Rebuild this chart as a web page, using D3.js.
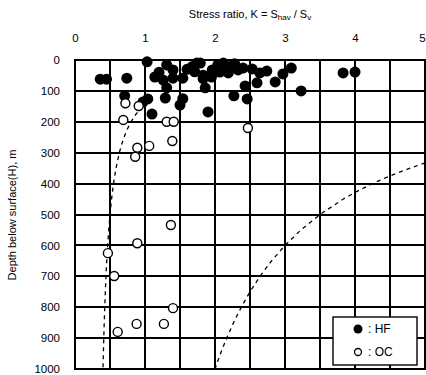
<!DOCTYPE html>
<html><head><meta charset="utf-8">
<script src="https://cdn.jsdelivr.net/npm/d3@7"></script>
<style>body{margin:0;background:#fff}svg{display:block}text{font-family:"Liberation Sans",Arial,sans-serif;fill:#000}</style>
</head><body><svg id="c" width="426" height="375"></svg>
<script>
const xTicks = [0,1,2,3,4,5];
const xGrid = [0.5,1,1.5,2,2.5,3,3.5,4,4.5];
const yTicks = [0,100,200,300,400,500,600,700,800,900,1000];
const hfK = [0.36,0.45,0.74,0.71,1.03,1.31,1.40,1.14,1.26,1.40,1.31,1.54,1.67,1.74,1.71,1.83,1.86,1.96,1.29,1.04,0.97,1.54,1.50,1.10,1.90,1.79,1.83,2.04,2.07,2.21,2.33,2.19,2.12,2.28,2.40,2.53,2.64,2.74,2.43,2.60,2.86,2.97,3.09,2.27,2.46,3.23,3.83,4.00,1.60,1.20,1.95,2.12];
const hfH = [62,62,59,116,6,16,32,55,65,59,90,59,22,10,38,60,90,32,123,126,136,125,146,175,168,10,49,16,39,22,32,42,10,12,26,29,42,36,84,74,71,45,26,116,126,100,42,39,30,40,55,28];
const ocK = [0.72,0.91,0.69,1.31,1.41,2.47,1.39,0.89,1.06,0.86,1.37,0.89,0.47,0.56,1.40,0.61,0.88,1.27];
const ocH = [140,149,194,200,200,220,262,284,278,313,534,593,625,699,803,880,854,854];
const lowerA = 100, lowerB = 0.3;   // K = 100/H + 0.3
const upperA = 1500, upperB = 0.5;  // K = 1500/H + 0.5
const lowerDepths = [150,175,200,225,250,275,300,350,400,450,500,550,600,650,700,750,800,850,900,950,1000];
const upperDepths = [333,350,375,400,425,450,500,550,600,650,700,750,800,850,900,950,1000];

const svg = d3.select("#c");
const x = d3.scaleLinear().domain([0,5]).range([75,425]);
const y = d3.scaleLinear().domain([0,1000]).range([60,369]);

// grid lines
const grid = svg.append("g").attr("shape-rendering","crispEdges");
grid.selectAll("rect.gv").data(xGrid).enter().append("rect")
  .attr("x",d=>Math.round(x(d))-1).attr("y",y(0)).attr("width",2).attr("height",y(1000)-y(0)).attr("fill","#000");
grid.selectAll("rect.gh").data(yTicks.slice(1,-1)).enter().append("rect")
  .attr("x",x(0)).attr("y",d=>Math.round(y(d))-1).attr("width",x(5)-x(0)).attr("height",2).attr("fill","#000");
svg.append("rect").attr("x",x(0)).attr("y",y(0)).attr("width",x(5)-x(0)).attr("height",y(1000)-y(0))
  .attr("fill","none").attr("stroke","#000").attr("stroke-width",2);

// axes labels
const xa = svg.append("g").attr("transform",`translate(0,${y(0)-15})`)
  .call(d3.axisTop(x).tickValues(xTicks).tickSize(0).tickFormat(d3.format("d")));
xa.select(".domain").remove();
xa.selectAll("text").attr("font-size",11.5).attr("font-family","Liberation Sans, Arial, sans-serif")
  .attr("dx",d=>d===5?-3:0);
const ya = svg.append("g").attr("transform",`translate(${x(0)-12},0)`)
  .call(d3.axisLeft(y).tickValues(yTicks).tickSize(0).tickFormat(d3.format("d")));
ya.select(".domain").remove();
ya.selectAll("text").attr("font-size",11.5).attr("font-family","Liberation Sans, Arial, sans-serif");

// titles
const t = svg.append("text").attr("x",250).attr("y",18).attr("text-anchor","middle").attr("font-size",11);
t.append("tspan").text("Stress ratio, K = S");
t.append("tspan").attr("font-size",8).attr("dy",2).text("hav");
t.append("tspan").attr("dy",-2).text(" / S");
t.append("tspan").attr("font-size",8).attr("dy",2).text("v");
svg.append("text").attr("transform","translate(16,215) rotate(-90)").attr("text-anchor","middle")
  .attr("font-size",11).text("Depth below surface(H), m");

// curves
const line = d3.line().x(d=>x(d[0])).y(d=>y(d[1]));
svg.append("path").datum(lowerDepths.map(h=>[lowerA/h+lowerB,h])).attr("d",line)
  .attr("fill","none").attr("stroke","#000").attr("stroke-width",1.3).attr("stroke-dasharray","4,4");
svg.append("path").datum(upperDepths.map(h=>[upperA/h+upperB,h])).attr("d",line)
  .attr("fill","none").attr("stroke","#000").attr("stroke-width",1.3).attr("stroke-dasharray","4,4");

// points
svg.append("g").selectAll("circle").data(hfK.map((k,i)=>[k,hfH[i]])).join("circle")
  .attr("cx",d=>x(d[0])).attr("cy",d=>y(d[1])).attr("r",5.5).attr("fill","#000");
svg.append("g").selectAll("circle").data(ocK.map((k,i)=>[k,ocH[i]])).join("circle")
  .attr("cx",d=>x(d[0])).attr("cy",d=>y(d[1])).attr("r",4.5).attr("fill","#fff").attr("stroke","#000").attr("stroke-width",1.4);

// legend
const lg = svg.append("g");
lg.append("rect").attr("x",333).attr("y",317).attr("width",84).attr("height",48).attr("fill","#fff").attr("stroke","#000").attr("stroke-width",1.4);
lg.append("circle").attr("cx",358).attr("cy",329).attr("r",4.5).attr("fill","#000");
lg.append("circle").attr("cx",358).attr("cy",352).attr("r",3.5).attr("fill","#fff").attr("stroke","#000").attr("stroke-width",1.3);
lg.append("text").attr("x",368).attr("y",333).attr("font-size",12).text(": HF");
lg.append("text").attr("x",368).attr("y",356).attr("font-size",12).text(": OC");
</script></body></html>
